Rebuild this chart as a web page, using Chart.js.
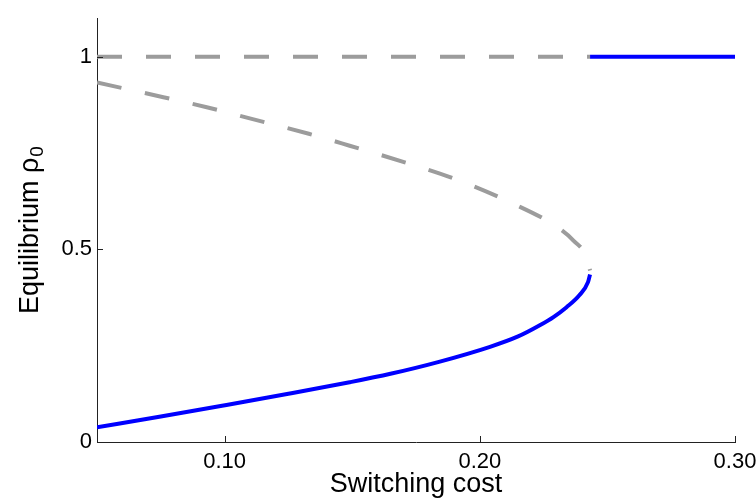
<!DOCTYPE html>
<html>
<head>
<meta charset="utf-8">
<script src="https://cdn.jsdelivr.net/npm/chart.js@4"></script>
<style>
  html, body { margin: 0; padding: 0; background: #fff; }
  #wrap { width: 756px; height: 504px; }
</style>
</head>
<body>
<div id="wrap"><canvas id="myChart"></canvas></div>
<script>
// values
var topUnstableX = [0.05, 0.2432];
var topUnstableY = [1, 1];
var topStableX = [0.2432, 0.30];
var topStableY = [1, 1];

var middleX = [0.05, 0.076, 0.093, 0.111, 0.133, 0.149, 0.1735, 0.1906, 0.2133, 0.2294, 0.2367, 0.242, 0.2432];
var middleY = [0.933, 0.895, 0.869, 0.838, 0.80, 0.769, 0.72, 0.682, 0.618, 0.562, 0.523, 0.477, 0.445];

var lowerX = [0.05, 0.075, 0.099, 0.125, 0.149, 0.165, 0.184, 0.204, 0.215, 0.2235, 0.229, 0.234, 0.239, 0.2424, 0.2432];
var lowerY = [0.038, 0.066, 0.094, 0.125, 0.155, 0.177, 0.208, 0.247, 0.274, 0.303, 0.325, 0.350, 0.381, 0.415, 0.435];

var xTicks = [0.10, 0.20, 0.30];
var xTickLabels = ['0.10', '0.20', '0.30'];
var yTicks = [0, 0.5, 1];
var yTickLabels = ['0', '0.5', '1'];

var FONT = "'Liberation Sans', Arial, sans-serif";
var BLUE = '#0000ff';
var GRAY = '#9c9c9c';

function pts(xs, ys) {
  return xs.map((x, i) => ({ x: x, y: ys[i] }));
}

function line(xs, ys, color, dashed) {
  return {
    data: pts(xs, ys),
    borderColor: color,
    backgroundColor: color,
    borderWidth: 4,
    borderDash: dashed ? [25, 24] : [],
    borderCapStyle: 'butt',
    pointRadius: 0,
    cubicInterpolationMode: 'monotone',
    showLine: true,
    fill: false
  };
}

// MATLAB style ticks pointing into the plot
const innerTicks = {
  id: 'innerTicks',
  afterDraw(chart) {
    const ctx = chart.ctx;
    const xs = chart.scales.x, ys = chart.scales.y;
    const a = chart.chartArea;
    ctx.save();
    ctx.strokeStyle = '#222';
    ctx.lineWidth = 1;
    ctx.beginPath();
    xTicks.forEach(v => {
      const px = Math.round(xs.getPixelForValue(v)) + 0.5;
      ctx.moveTo(px, a.bottom);
      ctx.lineTo(px, a.bottom - 6);
    });
    yTicks.forEach(v => {
      const py = Math.round(ys.getPixelForValue(v)) + 0.5;
      ctx.moveTo(a.left, py);
      ctx.lineTo(a.left + 6, py);
    });
    ctx.stroke();
    ctx.restore();
  }
};

// y title with a real subscript
const yTitle = {
  id: 'yTitle',
  afterDraw(chart) {
    const ctx = chart.ctx;
    const a = chart.chartArea;
    const main = 'Equilibrium ρ', sub = '0';
    ctx.save();
    ctx.fillStyle = '#000';
    ctx.font = '27px ' + FONT;
    const w1 = ctx.measureText(main).width;
    ctx.font = '19px ' + FONT;
    const w2 = ctx.measureText(sub).width;
    const total = w1 + 1 + w2;
    const cy = (a.top + a.bottom) / 2;
    ctx.translate(38, cy + total / 2);
    ctx.rotate(-Math.PI / 2);
    ctx.textBaseline = 'alphabetic';
    ctx.textAlign = 'left';
    ctx.font = '27px ' + FONT;
    ctx.fillText(main, 0, 0);
    ctx.font = '19px ' + FONT;
    ctx.fillText(sub, w1 + 1, 5);
    ctx.restore();
  }
};

const config = {
  type: 'scatter',
  data: {
    datasets: [
      line(topUnstableX, topUnstableY, GRAY, true),
      line(topStableX, topStableY, BLUE, false),
      line(middleX, middleY, GRAY, true),
      line(lowerX, lowerY, BLUE, false)
    ]
  },
  options: {
    responsive: true,
    maintainAspectRatio: false,
    animation: false,
    layout: { padding: { top: 13, right: 0, left: 0, bottom: 0 } },
    plugins: {
      legend: { display: false },
      tooltip: { enabled: false }
    },
    scales: {
      x: {
        type: 'linear',
        min: 0.05,
        max: 0.30,
        afterBuildTicks: (scale) => { scale.ticks = xTicks.map(v => ({ value: v })); },
        afterFit: (scale) => { scale.height = 62; scale.paddingRight = 21; },
        grid: { display: false, drawTicks: false },
        border: { display: true, color: '#222', width: 1 },
        ticks: {
          padding: 7,
          color: '#000',
          font: { family: FONT, size: 22 },
          callback: (v) => xTickLabels[xTicks.indexOf(v)]
        },
        title: {
          display: true,
          text: 'Switching cost',
          color: '#000',
          font: { family: FONT, size: 27 },
          padding: { top: 0, bottom: 3 }
        }
      },
      y: {
        type: 'linear',
        min: 0,
        max: 1.1,
        afterBuildTicks: (scale) => { scale.ticks = yTicks.map(v => ({ value: v })); },
        afterFit: (scale) => { scale.width = 97; },
        grid: { display: false, drawTicks: false },
        border: { display: true, color: '#222', width: 1 },
        ticks: {
          padding: 5,
          color: '#000',
          font: { family: FONT, size: 22 },
          callback: (v) => yTickLabels[yTicks.indexOf(v)]
        },
        title: { display: false }
      }
    }
  },
  plugins: [innerTicks, yTitle]
};

document.addEventListener('DOMContentLoaded', () => {
  new Chart(document.getElementById('myChart'), config);
});
</script>
</body>
</html>
